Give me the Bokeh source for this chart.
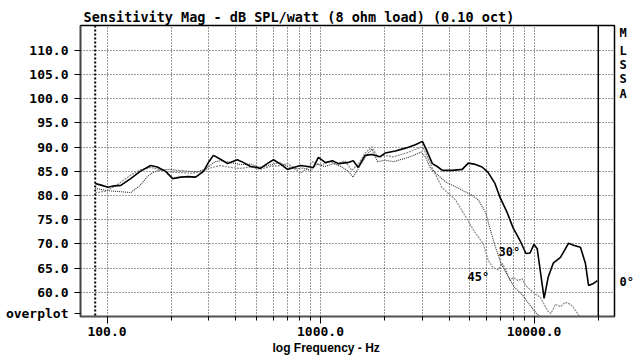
from bokeh.plotting import figure
from bokeh.models import (Range1d, FixedTicker, PrintfTickFormatter, Span, Label, Title,
                          LinearAxis, CustomJSTickFormatter)
from bokeh.embed import file_html
from bokeh.resources import INLINE

# ---------------- data ----------------
freq_0 = [88, 93, 101, 108, 116, 129, 143, 160, 172, 188, 203, 221, 240, 260, 283, 300, 315,
          340, 367, 408, 436, 470, 506, 523, 558, 602, 650, 700, 747, 805, 868, 925, 977,
          1055, 1137, 1213, 1335, 1424, 1502, 1618, 1740, 1900, 2010, 2240, 2500, 2780, 3000,
          3130, 3340, 3520, 3720, 4140, 4610, 4920, 5240, 5710, 6090, 6560, 6930, 7480, 7980,
          8590, 9170, 9580, 9990, 10350, 10800, 11150, 11650, 12300, 13300, 14500, 15300,
          16500, 17400, 18000, 19000, 19800]
db_0 = [82.5, 82.2, 81.7, 82.0, 82.1, 83.5, 85.0, 86.2, 85.9, 85.0, 83.5, 83.8, 83.9, 83.8, 85.0, 87.0, 88.3,
        87.5, 86.6, 87.4, 86.8, 86.0, 85.8, 85.6, 86.5, 87.4, 86.5, 85.4, 85.8, 86.2, 86.0, 85.8, 87.9,
        86.8, 87.2, 86.6, 86.8, 87.2, 85.8, 88.3, 88.5, 88.0, 88.8, 89.2, 89.8, 90.5, 91.2,
        89.5, 86.6, 86.0, 85.2, 85.2, 85.4, 86.7, 86.5, 85.9, 84.8, 82.5, 79.6, 76.5, 73.3,
        70.7, 68.0, 68.1, 69.9, 69.0, 63.1, 58.7, 63.1, 66.0, 67.2, 70.1, 69.7,
        69.3, 66.0, 61.4, 61.8, 62.4]

freq_30 = [88, 100, 115, 129, 143, 155, 165, 178, 195, 215, 240, 265, 290, 320, 345, 380, 420,
           470, 520, 580, 640, 700, 760, 820, 900, 960, 1050, 1150, 1250, 1350, 1420, 1500,
           1620, 1740, 1850, 2000, 2200, 2450, 2700, 2950, 3100, 3275, 3850, 4430, 5150, 5500,
           5930, 6250, 6600, 7000, 7500, 8100, 8800, 9500, 10300, 11000]
db_30 = [81.5, 81.0, 80.8, 80.6, 82.1, 84.0, 84.8, 85.3, 85.4, 85.2, 85.0, 84.9, 85.5, 87.0, 87.2, 86.8, 86.4,
         86.5, 85.8, 86.3, 86.8, 86.0, 85.5, 85.7, 85.2, 86.5, 86.0, 86.6, 86.0, 85.0, 83.8, 85.5,
         88.0, 89.6, 87.0, 87.3, 87.0, 87.6, 88.2, 89.0, 88.0, 85.6, 82.8, 81.5, 80.0, 79.0,
         76.5, 72.8, 69.3, 66.0, 63.5, 61.0, 59.5, 57.5, 55.5, 54.5]

freq_45 = [88, 100, 110, 120, 130, 143, 160, 175, 190, 210, 250, 280, 310, 340, 380, 420, 470,
           520, 580, 650, 700, 760, 805, 860, 920, 1000, 1100, 1200, 1300, 1400, 1500, 1620,
           1740, 1850, 2000, 2200, 2450, 2700, 2950, 3050, 3330, 3700, 4300, 4800, 5250, 5800,
           6100, 6400, 6800, 7100, 7400, 7700, 8000, 8400, 8800, 9130, 9950, 10720, 11560,
           12000, 12600, 13300, 14000, 14800, 15300, 16000, 16500]
db_45 = [80.5, 81.0, 82.0, 83.2, 84.3, 85.3, 85.8, 85.4, 85.0, 84.8, 84.6, 85.0, 85.8, 86.2, 85.8, 85.6, 85.9,
         85.4, 86.0, 86.2, 86.6, 85.6, 84.6, 85.5, 87.0, 86.3, 87.0, 86.5, 87.2, 85.2, 86.5, 88.8,
         90.1, 88.0, 88.3, 88.0, 88.6, 89.3, 90.0, 89.6, 85.8, 81.7, 79.0, 75.5, 72.6, 69.9,
         66.6, 65.2, 64.6, 66.0, 64.5, 62.5, 63.0, 62.4, 62.8, 61.4, 59.9, 58.9, 56.2,
         55.6, 57.5, 57.0, 57.9, 57.5, 56.8, 55.6, 54.5]

y_ticks = [60, 65, 70, 75, 80, 85, 90, 95, 100, 105, 110]
x_major_ticks = [100, 1000, 10000]
x_minor_ticks = [200, 300, 400, 500, 600, 700, 800, 900,
                 2000, 3000, 4000, 5000, 6000, 7000, 8000, 9000, 20000]
x_grid_ticks = [100, 200, 300, 400, 500, 600, 700, 800, 900,
                1000, 2000, 3000, 4000, 5000, 6000, 7000, 8000, 9000, 10000]
start_marker_hz = 88
end_marker_hz = 20000

title_text = "Sensitivity Mag - dB SPL/watt (8 ohm load) (0.10 oct)"
x_label_text = "log Frequency - Hz"
corner_text = "overplot"
side_letters = ["M", "L", "S", "S", "A"]
curve_names = ["0°", "30°", "45°"]

# ---------------- figure ----------------
W, H = 637, 363
FL, FR, FT, FB = 80, 614, 25, 316   # frame edges in page pixels

p = figure(width=W, height=H, x_axis_type="log",
           x_range=Range1d(75.1, 23820), y_range=Range1d(54.97, 115.17),
           output_backend="svg", toolbar_location=None, title=None,
           min_border_left=FL, min_border_right=W - FR,
           min_border_top=FT, min_border_bottom=H - FB)

p.background_fill_color = "white"
p.border_fill_color = "white"
p.outline_line_color = "black"
p.outline_line_width = 1.5

MONO = "DejaVu Sans Mono"

# dB positions of the text placed to the right of the frame
side_y = [113.6, 109.8, 106.9, 104.2, 101.1]
zero_y = 62.1
corner_y = 55.6

# y axis (left), with the "overplot" note as its lowest label
p.yaxis.ticker = FixedTicker(ticks=y_ticks + [corner_y])
p.yaxis.formatter = CustomJSTickFormatter(
    args=dict(note=corner_text),
    code="return tick < 57 ? note : tick.toFixed(1);")
p.yaxis.major_label_text_font = MONO
p.yaxis.major_label_text_font_style = "bold"
p.yaxis.major_label_text_font_size = "13px"
p.yaxis.major_label_text_color = "black"
p.yaxis.major_tick_out = 6
p.yaxis.major_tick_in = 0
p.yaxis.minor_tick_out = 0
p.yaxis.minor_tick_in = 0
p.yaxis.major_label_standoff = 6
p.yaxis.axis_line_color = "#444444"
p.yaxis.axis_line_width = 1.5
p.yaxis.major_tick_line_color = "black"

# right axis carrying the MLSSA letters and the 0° tag
labels_map = {f"{v:.1f}": t for v, t in zip(side_y, side_letters)}
labels_map[f"{zero_y:.1f}"] = curve_names[0]
raxis = LinearAxis(ticker=FixedTicker(ticks=side_y + [zero_y]),
                   formatter=CustomJSTickFormatter(args=dict(m=labels_map),
                                                   code="return m[tick.toFixed(1)] || '';"))
raxis.axis_line_color = None
raxis.major_tick_line_color = None
raxis.minor_tick_line_color = None
raxis.major_tick_out = 0
raxis.major_tick_in = 0
raxis.minor_tick_out = 0
raxis.minor_tick_in = 0
raxis.major_label_standoff = 5
raxis.major_label_text_font = MONO
raxis.major_label_text_font_style = "bold"
raxis.major_label_text_font_size = "12px"
raxis.major_label_text_color = "black"
p.add_layout(raxis, "right")

# x axis
p.xaxis.ticker = FixedTicker(ticks=x_major_ticks, minor_ticks=x_minor_ticks)
p.xaxis.formatter = PrintfTickFormatter(format="%.1f")
p.xaxis.major_label_text_font = MONO
p.xaxis.major_label_text_font_style = "bold"
p.xaxis.major_label_text_font_size = "13px"
p.xaxis.major_label_text_color = "black"
p.xaxis.major_tick_out = 7
p.xaxis.major_tick_in = 0
p.xaxis.minor_tick_out = 4
p.xaxis.minor_tick_in = 0
p.xaxis.major_label_standoff = 3
p.xaxis.axis_line_color = "#555555"
p.xaxis.axis_line_width = 1.5
p.xaxis.major_tick_line_color = "black"
p.xaxis.minor_tick_line_color = "black"

# grids
p.xgrid.ticker = FixedTicker(ticks=x_grid_ticks)
p.ygrid.ticker = FixedTicker(ticks=y_ticks)
for g in (p.xgrid, p.ygrid):
    g.grid_line_color = "#222222"
    g.grid_line_dash = "1 2"
    g.grid_line_width = 1
    g.grid_line_alpha = 0.9

# marker lines
p.add_layout(Span(location=start_marker_hz, dimension="height", line_color="black",
                  line_width=2, line_dash="2 2"))
p.add_layout(Span(location=end_marker_hz, dimension="height", line_color="black",
                  line_width=1.5))

# curves
p.line(freq_45, db_45, line_color="#8a8a8a", line_width=1.2, line_dash="2 1")
p.line(freq_30, db_30, line_color="#333333", line_width=1.1, line_dash="1 1")
p.line(freq_0, db_0, line_color="black", line_width=1.6)

# titles
p.add_layout(Title(text=title_text, align="left", offset=3, standoff=2,
                   text_font=MONO, text_font_style="bold", text_font_size="13.5px",
                   text_color="black"), "above")
p.add_layout(Title(text=x_label_text, align="left", offset=192, standoff=0,
                   text_font="Liberation Sans", text_font_style="bold",
                   text_font_size="12px", text_color="black"), "below")

# curve tags inside the frame
p.add_layout(Label(x=6820, y=66.8, text=curve_names[1], text_font=MONO, text_font_style="bold",
                   text_font_size="12px", text_color="black"))
p.add_layout(Label(x=4880, y=61.7, text=curve_names[2], text_font=MONO, text_font_style="bold",
                   text_font_size="12px", text_color="black"))

open("out.html", "w").write(file_html(p, INLINE))
